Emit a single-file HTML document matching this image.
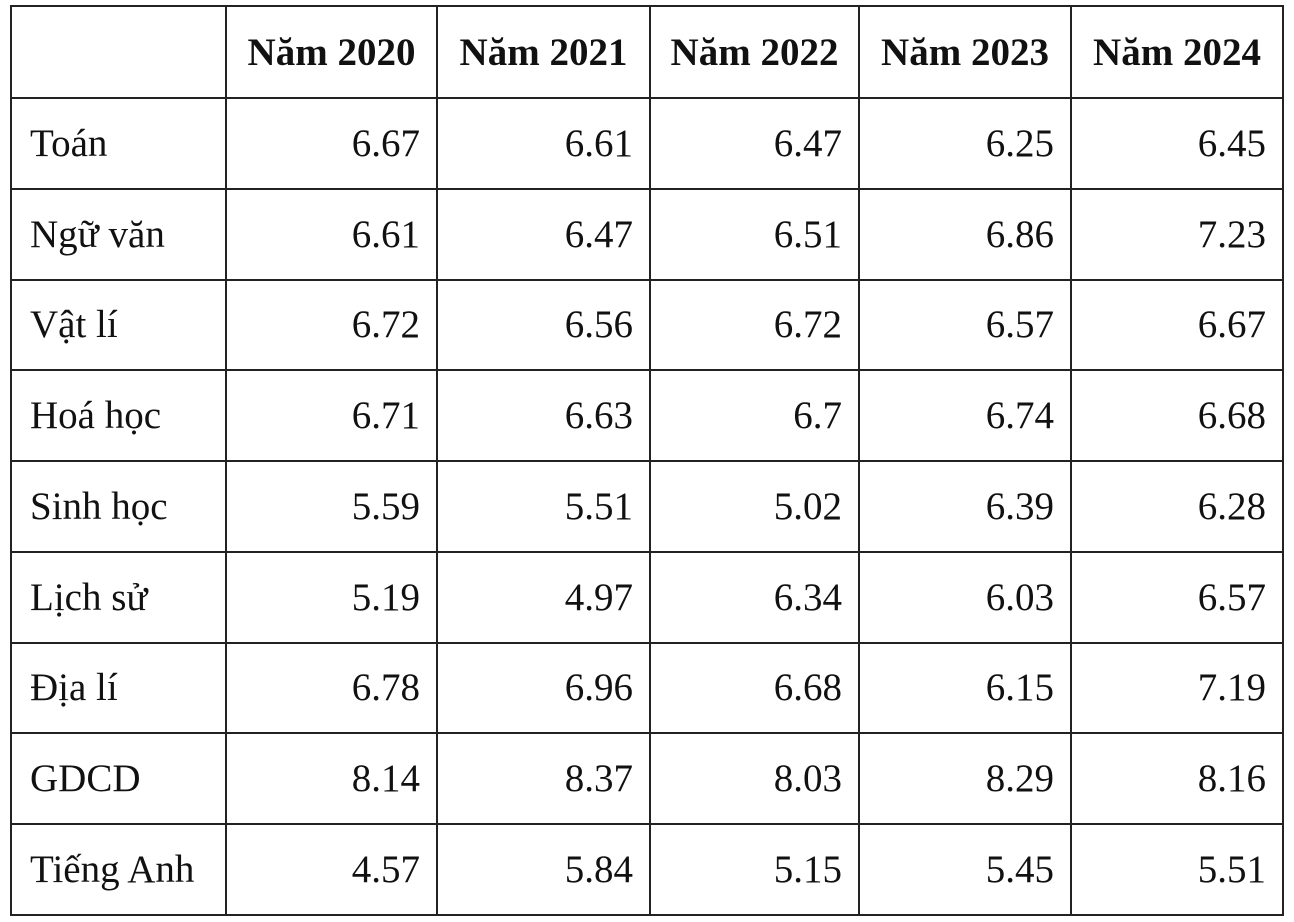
<!DOCTYPE html>
<html><head><meta charset="utf-8"><style>
html,body{margin:0;padding:0;background:#fff;width:1294px;height:922px;overflow:hidden}
table{position:absolute;left:10px;top:5px;border-collapse:collapse;font-family:"Liberation Serif",serif;font-size:39px;color:#111}
td,th{border:2px solid #222;padding:0 16px 0 18px;box-sizing:border-box;height:90.75px}
th{font-weight:bold;text-align:center;height:92px;padding:0}
td{text-align:right}
td:first-child{text-align:left}
</style></head><body>
<table>
<colgroup><col style="width:215px"><col style="width:211px"><col style="width:213px"><col style="width:209px"><col style="width:212px"><col style="width:212px"></colgroup>
<tr><th></th><th>Năm 2020</th><th>Năm 2021</th><th>Năm 2022</th><th>Năm 2023</th><th>Năm 2024</th></tr>
<tr><td>Toán</td><td>6.67</td><td>6.61</td><td>6.47</td><td>6.25</td><td>6.45</td></tr>
<tr><td>Ngữ văn</td><td>6.61</td><td>6.47</td><td>6.51</td><td>6.86</td><td>7.23</td></tr>
<tr><td>Vật lí</td><td>6.72</td><td>6.56</td><td>6.72</td><td>6.57</td><td>6.67</td></tr>
<tr><td>Hoá học</td><td>6.71</td><td>6.63</td><td>6.7</td><td>6.74</td><td>6.68</td></tr>
<tr><td>Sinh học</td><td>5.59</td><td>5.51</td><td>5.02</td><td>6.39</td><td>6.28</td></tr>
<tr><td>Lịch sử</td><td>5.19</td><td>4.97</td><td>6.34</td><td>6.03</td><td>6.57</td></tr>
<tr><td>Địa lí</td><td>6.78</td><td>6.96</td><td>6.68</td><td>6.15</td><td>7.19</td></tr>
<tr><td>GDCD</td><td>8.14</td><td>8.37</td><td>8.03</td><td>8.29</td><td>8.16</td></tr>
<tr><td>Tiếng Anh</td><td>4.57</td><td>5.84</td><td>5.15</td><td>5.45</td><td>5.51</td></tr>
</table>
</body></html>
